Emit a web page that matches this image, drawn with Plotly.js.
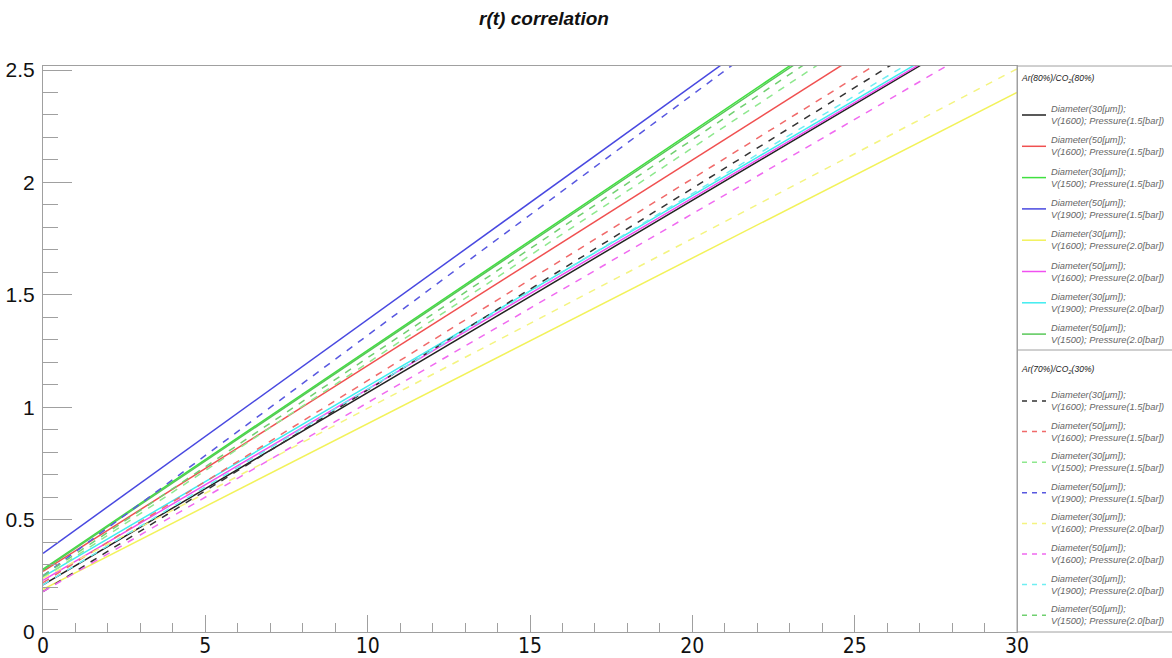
<!DOCTYPE html>
<html>
<head>
<meta charset="utf-8">
<script src="https://cdn.plot.ly/plotly-3.0.1.min.js"></script>
<style>html,body{margin:0;padding:0;background:#fff;}#chart{width:1172px;height:658px;}</style>
</head>
<body>
<div id="chart"></div>
<script>
// ---- data ----
const gasMixtures = ['Ar(80%)/CO<sub>2</sub>(80%)', 'Ar(70%)/CO<sub>2</sub>(30%)'];
const diameters = ['30', '50', '30', '50', '30', '50', '30', '50'];
const voltages = ['1600', '1600', '1500', '1900', '1600', '1600', '1900', '1500'];
const pressures = ['1.5', '1.5', '1.5', '1.5', '2.0', '2.0', '2.0', '2.0'];
const xValues = [0, 30];                     // drift time range
// r at t = 0 and at t = 30 for the 8 Ar(80%) series (solid) and 8 Ar(70%) series (dashed)
const rStartSolid = [0.21, 0.27, 0.28, 0.35, 0.19, 0.23, 0.245, 0.275];
const rEndSolid   = [2.775, 3.015, 3.20, 3.47, 2.40, 2.78, 2.79, 3.19];
const rStartDashed = [0.18, 0.22, 0.24, 0.25, 0.24, 0.18, 0.21, 0.25];
const rEndDashed   = [2.87, 2.915, 3.11, 3.46, 2.505, 2.70, 2.82, 3.16];
const seriesColors = ['#222222', '#f05050', '#40e040', '#4848e0', '#f2f25a', '#f050f0', '#40ecf0', '#58c858'];
const dashedColors = ['#333333', '#f06a6a', '#8ee88e', '#5858e0', '#f4f480', '#f06af0', '#70eef2', '#70d070'];

// ---- layout geometry ----
const W = 1172, H = 658;
const M = {l: 43, r: 155, t: 66, b: 26};
const plotW = W - M.l - M.r, plotH = H - M.t - M.b;
const px2x = p => (p - M.l) / plotW;
const px2y = p => (H - M.b - p) / plotH;

const labelFor = i => 'Diameter(' + diameters[i] + '[μm]);<br>V(' + voltages[i] + '); Pressure(' + pressures[i] + '[bar])';

const traces = [];
[[rStartSolid, rEndSolid, 'solid', 0, seriesColors], [rStartDashed, rEndDashed, '7px,7px', 1, dashedColors]].forEach(([s, e, dash, g, cols]) => {
  for (let i = 0; i < 8; i++) {
    traces.push({
      x: xValues, y: [s[i], e[i]], type: 'scatter', mode: 'lines',
      name: gasMixtures[g].replace(/<\/?sub>/g, '') + ' ' + labelFor(i).replace('<br>', ' '),
      line: {color: cols[i], width: 1.5, dash: dash},
      showlegend: false, hoverinfo: 'skip'
    });
  }
});

// ---- hand-drawn ROOT-style legend ----
const annotations = [];
const shapes = [];
const frameColor = '#a0a0a0';
shapes.push({type: 'rect', xref: 'paper', yref: 'paper', x0: 1, x1: px2x(1180), y0: 0, y1: 1,
  line: {color: frameColor, width: 1}});
shapes.push({type: 'line', xref: 'paper', yref: 'paper', x0: 1, x1: px2x(1180), y0: px2y(350), y1: px2y(350),
  line: {color: frameColor, width: 1}});
const groupTitleY = [78, 369];
const groupStartY = [115, 401];
const groupStep = [31.3, 30.6];
for (let g = 0; g < 2; g++) {
  annotations.push({xref: 'paper', yref: 'paper', x: px2x(1019), y: px2y(groupTitleY[g]),
    xanchor: 'left', yanchor: 'middle', showarrow: false, text: '<i>' + gasMixtures[g] + '</i>',
    font: {family: 'Liberation Sans Narrow, Liberation Sans, Arial, sans-serif', size: 8.5, color: '#222'}});
  for (let i = 0; i < 8; i++) {
    const yc = groupStartY[g] + groupStep[g] * i;
    shapes.push({type: 'line', xref: 'paper', yref: 'paper', x0: px2x(1022), x1: px2x(1046),
      y0: px2y(yc), y1: px2y(yc),
      line: {color: (g === 0 ? seriesColors : dashedColors)[i], width: 1.5, dash: g === 0 ? 'solid' : '5px,5px'}});
    annotations.push({xref: 'paper', yref: 'paper', x: px2x(1049), y: px2y(yc),
      xanchor: 'left', yanchor: 'middle', align: 'left', showarrow: false,
      text: '<i>' + labelFor(i) + '</i>',
      font: {family: 'Liberation Sans, Arial, sans-serif', size: 9.3, color: '#666'}});
  }
}

const yTickFont = {family: 'Liberation Sans, Arial, sans-serif', size: 21, color: '#111'};
const xTickFont = {family: 'DejaVu Sans Condensed, Liberation Sans Narrow, Liberation Sans, sans-serif', size: 21, color: '#111'};
const layout = {
  width: W, height: H, margin: M,
  paper_bgcolor: '#fff', plot_bgcolor: '#fff',
  showlegend: false,
  title: {text: '<b><i>r(t) correlation</i></b>', x: 544 / W, xanchor: 'center', xref: 'container',
    y: 1 - 18 / H, yanchor: 'middle', yref: 'container',
    font: {family: 'Liberation Sans, Arial, sans-serif', size: 19, color: '#111'}},
  xaxis: {range: [0, 30], dtick: 5, tick0: 0, ticks: 'inside', ticklen: 17, tickcolor: frameColor,
    minor: {dtick: 1, ticks: 'inside', ticklen: 9, tickcolor: frameColor},
    showline: true, mirror: true, linecolor: frameColor, linewidth: 1,
    showgrid: false, zeroline: false, tickfont: xTickFont, ticklabelstandoff: -5},
  yaxis: {range: [0, (H - M.b - M.t) / 224.8], dtick: 0.5, tick0: 0, ticks: 'inside', ticklen: 29, tickcolor: frameColor,
    minor: {dtick: 0.1, ticks: 'inside', ticklen: 15, tickcolor: frameColor},
    showline: true, mirror: true, linecolor: frameColor, linewidth: 1,
    showgrid: false, zeroline: false, tickfont: yTickFont, ticklabelstandoff: 3},
  annotations: annotations,
  shapes: shapes
};

Plotly.newPlot('chart', traces, layout, {displayModeBar: false, staticPlot: true});
</script>
</body>
</html>
